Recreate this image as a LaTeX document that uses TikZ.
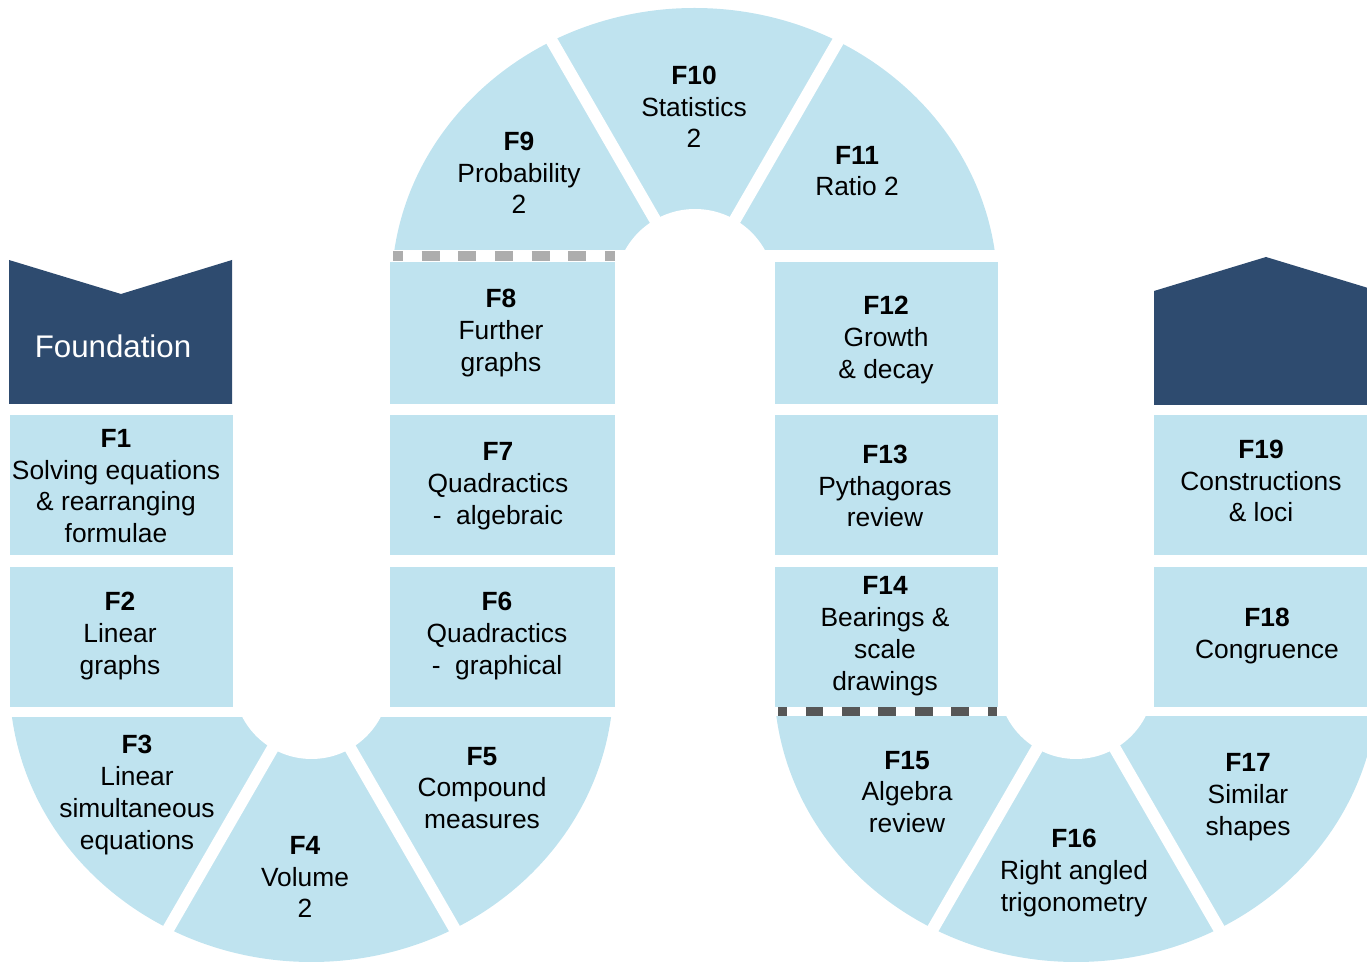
\documentclass[tikz,border=0pt]{standalone}
\usepackage{fontspec}
\setmainfont{Liberation Sans}
\definecolor{tileblue}{HTML}{BFE3EF}
\definecolor{bannerblue}{HTML}{2E4B6F}
\definecolor{lightdash}{HTML}{ADADAD}
\definecolor{darkdash}{HTML}{575757}
\tikzset{
  tile/.style={fill=tileblue},
  hole/.style={fill=white},
  gapline/.style={draw=white, line width=0.24cm},
  topic/.style={align=center, inner sep=0pt, font=\fontsize{15}{18.1}\selectfont},
  bannertext/.style={inner sep=0pt, text=white, font=\fontsize{17.8}{21}\selectfont},
}
\newcommand{\fcode}[1]{\textbf{#1}\\}
\begin{document}
\begin{tikzpicture}[x=0.02cm, y=-0.02cm]
\useasboundingbox (0,0) rectangle (1367,962);
\clip (0,0) rectangle (1367,962);

% bends of the path
\begin{scope}
  \clip (0,718) rectangle (640,962);
  \fill[tile] (311.5,681) ellipse [x radius=302, y radius=281];
\end{scope}
\begin{scope}
  \clip (740,717) rectangle (1400,962);
  \fill[tile] (1076,681) ellipse [x radius=302, y radius=281];
\end{scope}
\begin{scope}
  \clip (380,0) rectangle (1010,250);
  \fill[tile] (694.5,289) ellipse [x radius=303, y radius=281];
\end{scope}

% straight parts
\foreach \xa/\xb in {10/233, 390/615, 775/998, 1154/1378}
  \foreach \ya/\yb in {415/555, 567/707}
    \fill[tile] (\xa,\ya) rectangle (\xb,\yb);
\fill[tile] (390,262) rectangle (615,404);
\fill[tile] (775,262) rectangle (998,404);

% holes and gaps
\fill[hole] (311.5,681) circle [radius=78];
\fill[hole] (1076,681) circle [radius=78];
\fill[hole] (695,289) circle [radius=80];
\foreach \a in {60,120} {
  \draw[gapline] (311.5,681) -- ++(\a:340);
  \draw[gapline] (1076,681) -- ++(\a:340);
}
\foreach \a in {-60,-120}
  \draw[gapline] (695,289) -- ++(\a:340);

% dashed breaks
\draw[draw=lightdash, line width=0.2cm, dash pattern=on 0.36cm off 0.373cm, dash phase=0.16cm]
  (393,256) -- (615,256);
\draw[draw=darkdash, line width=0.18cm, dash pattern=on 0.36cm off 0.37cm, dash phase=0.18cm]
  (778,711.5) -- (997,711.5);

% banners
\fill[bannerblue] (9,260) -- (121,294) -- (232,260) -- (232,404) -- (9,404) -- cycle;
\fill[bannerblue] (1154,291) -- (1266,257) -- (1378,291) -- (1378,405) -- (1154,405) -- cycle;
\node[bannertext] (foundation) at (113,346) {Foundation};

% topics
\node[topic] (f1) at (116,486) {\fcode{F1}Solving equations\\\& rearranging\\formulae};
\node[topic] (f2) at (120,636) {\fcode{F2}Linear\\graphs};
\node[topic] (f3) at (137,795) {\fcode{F3}Linear\\simultaneous\\equations};
\node[topic] (f4) at (305,877) {\fcode{F4}Volume\\2};
\node[topic] (f5) at (482,788) {\fcode{F5}Compound\\measures};
\node[topic] (f6) at (497,636) {\fcode{F6}Quadractics\\-\ \ graphical};
\node[topic] (f7) at (498,486) {\fcode{F7}Quadractics\\-\ \ algebraic};
\node[topic] (f8) at (501,333) {\fcode{F8}Further\\graphs};
\node[topic] (f9) at (519,173) {\fcode{F9}Probability\\2};
\node[topic] (f10) at (694,107) {\fcode{F10}Statistics\\2};
\node[topic] (f11) at (857,171) {\fcode{F11}Ratio 2};
\node[topic] (f12) at (886,340) {\fcode{F12}Growth\\\& decay};
\node[topic] (f13) at (885,486) {\fcode{F13}Pythagoras\\review};
\node[topic] (f14) at (885,636) {\fcode{F14}Bearings \&\\scale\\drawings};
\node[topic] (f15) at (907,792) {\fcode{F15}Algebra\\review};
\node[topic] (f16) at (1074,873) {\fcode{F16}Right angled\\trigonometry};
\node[topic] (f17) at (1248,797) {\fcode{F17}Similar\\shapes};
\node[topic] (f18) at (1267,636) {\fcode{F18}Congruence};
\node[topic] (f19) at (1261,481) {\fcode{F19}Constructions\\\& loci};
\end{tikzpicture}
\end{document}
